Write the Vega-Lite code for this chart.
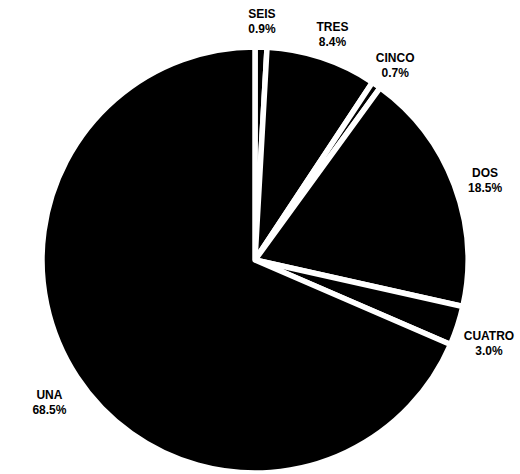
{
  "$schema": "https://vega.github.io/schema/vega-lite/v6.json",
  "autosize": {"type": "none"},
  "width": 500,
  "height": 428,
  "padding": {"left": 5, "top": 46, "right": 15, "bottom": 0},
  "background": "white",
  "data": {
    "values": [
      {"name": "SEIS", "value": 0.9, "rank": 1},
      {"name": "TRES", "value": 8.4, "rank": 2},
      {"name": "CINCO", "value": 0.7, "rank": 3},
      {"name": "DOS", "value": 18.5, "rank": 4},
      {"name": "CUATRO", "value": 3.0, "rank": 5},
      {"name": "UNA", "value": 68.5, "rank": 6}
    ]
  },
  "transform": [
    {"calculate": "datum.name + '\\n' + format(datum.value, '.1f') + '%'", "as": "label"}
  ],
  "encoding": {
    "theta": {"field": "value", "type": "quantitative", "stack": true},
    "order": {"field": "rank", "type": "quantitative"}
  },
  "layer": [
    {
      "mark": {"type": "arc", "outerRadius": 213, "fill": "black", "stroke": "white", "strokeWidth": 5.5, "strokeJoin": "round"}
    },
    {
      "mark": {"type": "text", "radius": 246, "font": "Liberation Sans", "fontWeight": "bold", "fontSize": 12, "lineBreak": "\n", "lineHeight": 15, "color": "black"},
      "encoding": {"text": {"field": "label", "type": "nominal"}}
    }
  ],
  "config": {"view": {"stroke": null}}
}
